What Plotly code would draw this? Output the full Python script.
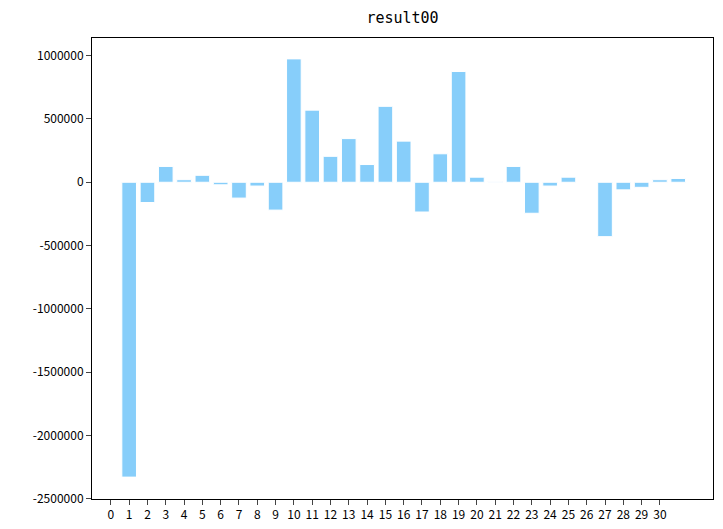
import plotly.graph_objects as go

positions = list(range(32))
values = [0, -2330000, -160000, 125000, 20000, 55000, -20000, -125000, -30000, -220000,
          975000, 570000, 205000, 345000, 140000, 600000, 325000, -235000, 225000, 875000,
          40000, 5000, 125000, -245000, -30000, 40000, 0, -430000, -60000, -40000, 20000, 30000]
xticks = list(range(31))
yticks = [-2500000, -2000000, -1500000, -1000000, -500000, 0, 500000, 1000000]

fig = go.Figure(go.Bar(x=positions, y=values, width=0.8, marker_color="#87CEFA",
                       marker_line=dict(color="white", width=1)))
fig.update_layout(
    width=723, height=529, plot_bgcolor="white", paper_bgcolor="white",
    margin=dict(l=84, r=18, t=30, b=38, autoexpand=False), showlegend=False,
    font=dict(family="Noto Sans CJK SC", size=12, color="black"),
    title=dict(text="result00", x=0.5, xref="paper", y=1, yref="container", yanchor="top", pad=dict(t=4),
               font=dict(size=15, family="DejaVu Sans Mono")),
)
fig.update_xaxes(range=[-1.03, 32.9], tickvals=xticks, ticktext=[str(t) for t in xticks],
                 ticks="outside", ticklen=5, showgrid=False, zeroline=False, automargin=False,
                 showline=True, linecolor="black", mirror=True, tickangle=0)
fig.update_yaxes(range=[-2503000, 1140000], tickvals=yticks, ticktext=[str(t) for t in yticks],
                 ticks="outside", ticklen=5, showgrid=False, zeroline=False, automargin=False,
                 showline=True, linecolor="black", mirror=True)
fig.write_html("out.html")
